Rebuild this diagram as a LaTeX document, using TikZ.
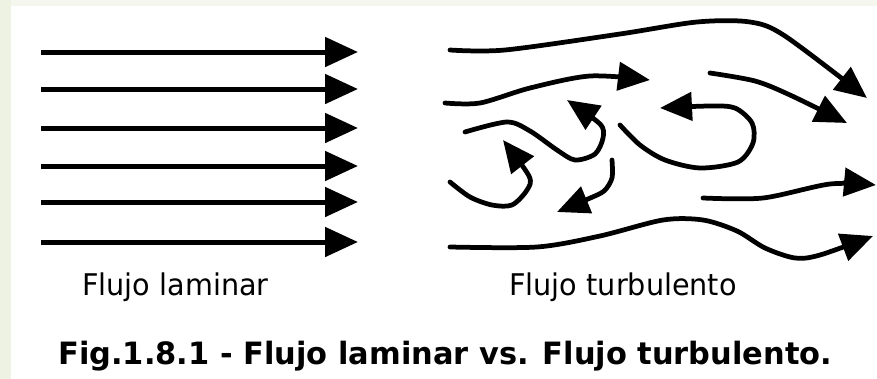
\documentclass[tikz,border=0pt]{standalone}
\usepackage{graphicx}
\usepackage{fontspec}
\setmainfont{DejaVu Sans}
\usetikzlibrary{arrows.meta}
\definecolor{leftstrip}{HTML}{EEF2E3}
\definecolor{topstrip}{HTML}{F5F7EE}
\tikzset{
  flowarrow/.style={line width=0.1cm, -{Triangle[length=0.66cm,width=0.58cm]}},
  turbarrow/.style={line width=0.095cm, line cap=round, line join=round, -{Triangle[length=0.64cm,width=0.56cm]}},
  labeltext/.style={anchor=base west, inner sep=0pt, font=\fontsize{17pt}{20pt}\selectfont},
  captiontext/.style={anchor=base west, inner sep=0pt, font=\fontsize{17.5pt}{20pt}\selectfont\bfseries}
}
\begin{document}
\begin{tikzpicture}[x=0.02cm, y=-0.02cm]
\useasboundingbox (0,0) rectangle (877,379);
% background
\fill[white] (0,0) rectangle (877,379);
\fill[topstrip] (0,0) rectangle (877,6);
\fill[leftstrip] (0,0) rectangle (11,379);

% laminar flow
\foreach \yy [count=\i] in {52,89,128,166,202,242} {
  \coordinate (ls\i) at (41,\yy);
  \coordinate (le\i) at (358,\yy);
  \draw[flowarrow] (ls\i) -- (le\i);
}

% turbulent flow
% C1 top
\draw[turbarrow] plot[smooth, tension=0.5] coordinates {(450,50) (505,50) (620,34) (697,22) (750,22) (785,36) (867,98)};
% C2
\draw[turbarrow] plot[smooth, tension=0.5] coordinates {(445,103) (480,103) (530,88) (590,76) (650,80)};
% C3 S-curve with arrow up-left
\draw[turbarrow] plot[smooth, tension=0.5] coordinates {(465,132) (507,122) (530,131) (557,150) (575,160) (595,154) (603,138) (600,124) (567,100)};
% C4 hook left
\draw[turbarrow] plot[smooth, tension=0.5] coordinates {(450,182) (470,197) (492,205) (512,205) (527,190) (529,176) (503,140)};
% C5 hook down-left
\draw[turbarrow] plot[smooth, tension=0.5] coordinates {(612,160) (612,178) (604,191) (588,199) (557,212)};
% C6 loop
\draw[turbarrow] plot[smooth, tension=0.5] coordinates {(620,125) (640,145) (665,160) (700,168) (738,162) (753,143) (752,123) (735,108) (710,106) (660,108)};
% C7
\draw[turbarrow] plot[smooth, tension=0.5] coordinates {(710,73) (755,81) (790,95) (847,123)};
% C8
\draw[turbarrow] plot[smooth, tension=0.5] coordinates {(703,198) (763,198) (830,184) (876,185)};
% C9 bottom
\draw[turbarrow] plot[smooth, tension=0.5] coordinates {(450,247) (537,247) (600,236) (663,220) (703,220) (737,231) (765,248) (795,258) (820,255) (873,236)};

% labels
\node[labeltext] (lam) at (82,295) {\scalebox{0.96}[1]{Flujo laminar}};
\node[labeltext] (tur) at (509,295) {\scalebox{0.96}[1]{Flujo turbulento}};
\node[captiontext] (cap) at (58,364) {\scalebox{0.99}[1]{Fig.1.8.1 - Flujo laminar vs. Flujo turbulento.}};
\end{tikzpicture}
\end{document}
